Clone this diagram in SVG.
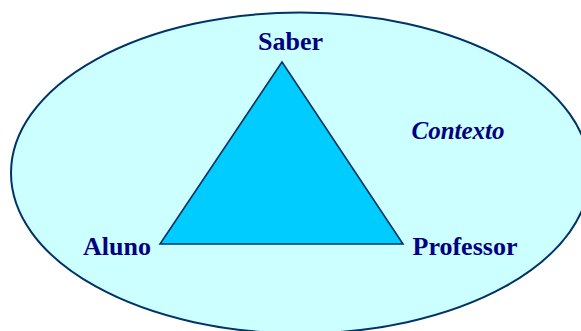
<svg xmlns="http://www.w3.org/2000/svg" width="581" height="331" viewBox="0 0 581 331">
  <style>
    text { font-family: 'Liberation Serif', 'DejaVu Serif', serif; font-weight: bold; font-size: 26px; fill: #000080; }
    .ctx { font-style: italic; font-size: 25px; }
  </style>
  <rect width="581" height="331" fill="#ffffff"/>
  <g id="contexto">
    <ellipse cx="300.5" cy="173" rx="289.5" ry="160.5" fill="#ccffff" stroke="#003366" stroke-width="2"/>
    <text class="ctx" x="411.5" y="139" font-family="Liberation Serif, serif">Contexto</text>
  </g>
  <g id="triangulo">
    <polygon points="282,62 160,244 403,244" fill="#00ccff" stroke="#003366" stroke-width="1.6"/>
  </g>
  <g id="saber">
    <text x="258" y="50" font-family="Liberation Serif, serif">Saber</text>
  </g>
  <g id="aluno">
    <text x="83" y="255" font-family="Liberation Serif, serif">Aluno</text>
  </g>
  <g id="professor">
    <text x="412.5" y="255" font-family="Liberation Serif, serif">Professor</text>
  </g>
  <g id="connectors"></g>
</svg>
